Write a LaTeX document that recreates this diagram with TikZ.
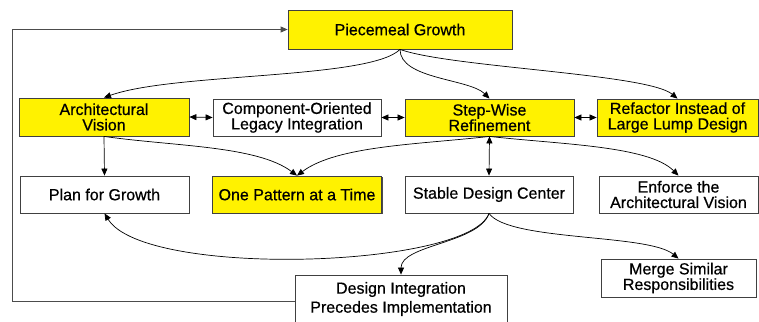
\documentclass[tikz,border=0pt]{standalone}
\usepackage{fontspec}
\setmainfont{Liberation Sans}
\newfontfamily\boxfont{Liberation Sans}[FakeBold=0.6]
\usetikzlibrary{arrows.meta,shadows}
\begin{document}
\begin{tikzpicture}[x=1pt,y=-1pt,
  box/.style={draw=black!75, line width=0.8pt, fill=white, inner sep=0pt,
    align=center, font=\boxfont\fontsize{16}{15.5}\selectfont},
  hl/.style={box, fill=yellow,
    general shadow={fill=black!70, shadow xshift=1pt, shadow yshift=-1pt}},
  tip/.tip={Triangle[length=7pt,width=6pt]},
  conn/.style={draw=black, line width=0.7pt, -tip},
  both/.style={draw=black, line width=0.7pt, tip-tip},
  loopline/.style={draw=black!70, line width=0.9pt, -tip},
]
\useasboundingbox (0,0) rectangle (759,321);

% top row
\node[hl, minimum width=224pt, minimum height=39pt] (pg) at (400,29.5) {Piecemeal Growth};

% second row
\node[hl,  minimum width=170pt, minimum height=38pt] (av) at (104,117) {Architectural\\Vision};
\node[box, minimum width=168pt, minimum height=37pt] (co) at (297,117.5) {Component-Oriented\\Legacy Integration};
\node[hl,  minimum width=169pt, minimum height=37pt] (sw) at (489.5,117.5) {Step-Wise\\Refinement};
\node[hl,  minimum width=161pt, minimum height=37pt] (rf) at (677.5,117.5) {Refactor Instead of\\Large Lump Design};

% third row
\node[box, minimum width=169pt, minimum height=37pt] (pl) at (104.5,194.5) {Plan for Growth};
\node[hl,  minimum width=169pt, minimum height=37pt] (op) at (297,194.5) {One Pattern at a Time};
\node[box, minimum width=168pt, minimum height=37pt] (sd) at (489,194.5) {Stable Design Center};
\node[box, minimum width=159pt, minimum height=37pt] (en) at (678.5,194.5) {Enforce the\\Architectural Vision};

% bottom row
\node[box, minimum width=155pt, minimum height=38pt] (mg) at (678.5,278) {Merge Similar\\Responsibilities};
\node[box, minimum width=212pt, minimum height=48pt,
  font=\boxfont\fontsize{16}{19}\selectfont] (di) at (401,299) {Design Integration\\Precedes Implementation};

% feedback loop back to the top
\coordinate (lb) at (12,301);
\coordinate (lt) at (12,29.5);
\draw[loopline] (di.west |- lb) -- (lb) -- (lt) -- (pg.west);

% from Piecemeal Growth
\draw[conn] (pg.south) .. controls +(-30,30) and +(70,-25) .. (av.north);
\draw[conn] (pg.south) .. controls +(0,30) and +(-20,-20) .. (sw.north);
\draw[conn] (pg.south) .. controls +(50,18) and +(-30,-25) .. (rf.north);

% links within the second row
\draw[both] (av.east) -- (co.west);
\draw[both] (co.east) -- (sw.west);
\draw[both] (sw.east) -- (rf.west);

% down to the third row
\draw[conn] (av.south) -- (pl.north);
\draw[conn] (av.south) .. controls +(70,10) and +(-40,-30) .. (op.north);
\draw[conn] (sw.south) .. controls +(-70,8) and +(40,-30) .. (op.north);
\draw[both] (sw.south) -- (sd.north);
\draw[conn] (sw.south) .. controls +(70,8) and +(-30,-30) .. (en.north);

% from Stable Design Center
\draw[conn] (sd.south) .. controls +(-20,55) and +(40,65) .. (pl.south);
\draw[conn] (sd.south) .. controls +(-10,30) and +(0,-30) .. (di.north);
\draw[conn] (sd.south) .. controls +(20,28) and +(-30,-25) .. (mg.north);
\end{tikzpicture}
\end{document}
